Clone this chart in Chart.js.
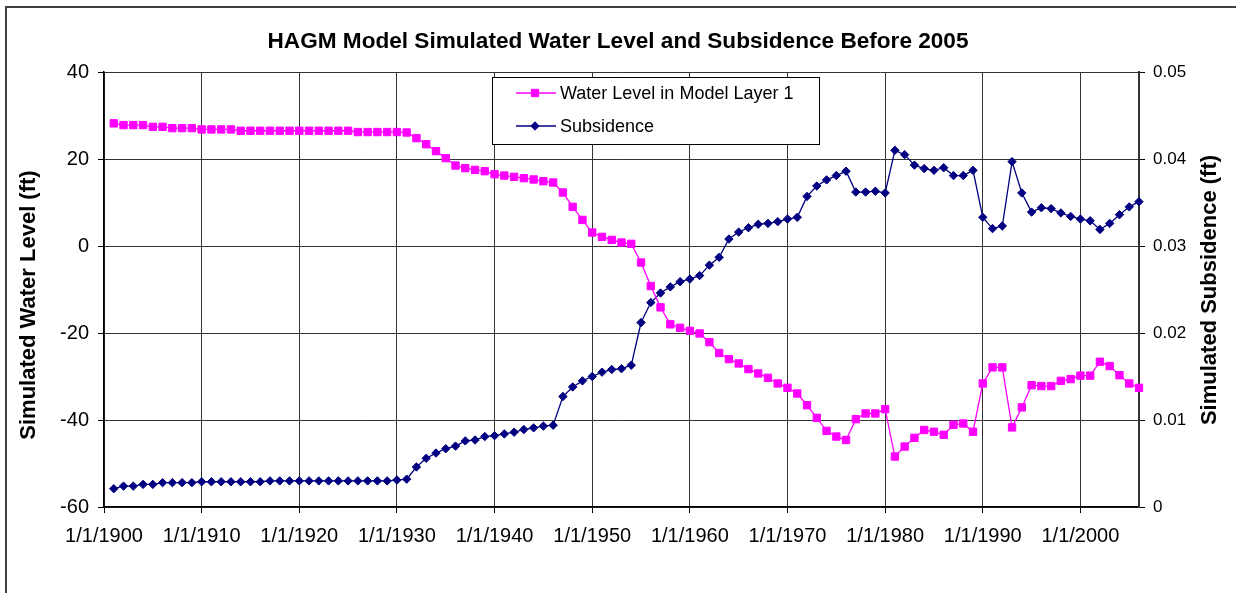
<!DOCTYPE html>
<html>
<head>
<meta charset="utf-8">
<script src="https://cdn.jsdelivr.net/npm/chart.js@4.4.0/dist/chart.umd.min.js"></script>
<style>
html,body{margin:0;padding:0;background:#fff;overflow:hidden}
canvas{display:block}
</style>
</head>
<body>
<canvas id="c" width="1236" height="593"></canvas>
<script>
// ---- data ----
const chartTitle = 'HAGM Model Simulated Water Level and Subsidence Before 2005';
const leftAxisTitle = 'Simulated Water Level (ft)';
const rightAxisTitle = 'Simulated Subsidence (ft)';
const seriesNames = ['Water Level in Model Layer 1', 'Subsidence'];

const years = [
1901,1902,1903,1904,1905,1906,1907,1908,1909,1910,
1911,1912,1913,1914,1915,1916,1917,1918,1919,1920,
1921,1922,1923,1924,1925,1926,1927,1928,1929,1930,
1931,1932,1933,1934,1935,1936,1937,1938,1939,1940,
1941,1942,1943,1944,1945,1946,1947,1948,1949,1950,
1951,1952,1953,1954,1955,1956,1957,1958,1959,1960,
1961,1962,1963,1964,1965,1966,1967,1968,1969,1970,
1971,1972,1973,1974,1975,1976,1977,1978,1979,1980,
1981,1982,1983,1984,1985,1986,1987,1988,1989,1990,
1991,1992,1993,1994,1995,1996,1997,1998,1999,2000,
2001,2002,2003,2004,2005,2006];

const waterLevel = [
28.2,27.8,27.8,27.8,27.4,27.4,27.1,27.1,27.1,26.8,
26.8,26.8,26.8,26.5,26.5,26.5,26.5,26.5,26.5,26.5,
26.5,26.5,26.5,26.5,26.5,26.2,26.2,26.2,26.2,26.2,
26.1,24.8,23.4,21.8,20.2,18.5,17.9,17.5,17.2,16.5,
16.2,15.9,15.6,15.3,14.9,14.6,12.3,9.0,6.0,3.1,
2.1,1.4,0.8,0.5,-3.8,-9.2,-14.1,-18.0,-18.8,-19.5,
-20.1,-22.1,-24.6,-26.0,-27.0,-28.3,-29.3,-30.3,-31.6,-32.6,
-33.9,-36.6,-39.5,-42.5,-43.8,-44.6,-39.8,-38.5,-38.5,-37.5,
-48.4,-46.1,-44.1,-42.3,-42.7,-43.4,-41.1,-40.8,-42.7,-31.6,
-27.9,-27.9,-41.7,-37.1,-32.0,-32.2,-32.2,-31.0,-30.6,-29.8,
-29.8,-26.6,-27.6,-29.7,-31.6,-32.6];

const subsidence = [
0.0021,0.0024,0.0024,0.0026,0.0026,0.0028,0.0028,0.0028,0.0028,0.0029,
0.0029,0.0029,0.0029,0.0029,0.0029,0.0029,0.0030,0.0030,0.0030,0.0030,
0.0030,0.0030,0.0030,0.0030,0.0030,0.0030,0.0030,0.0030,0.0030,0.0031,
0.0032,0.0046,0.0056,0.0062,0.0067,0.0070,0.0076,0.0077,0.0081,0.0082,
0.0084,0.0086,0.0089,0.0091,0.0093,0.0094,0.0127,0.0138,0.0145,0.0150,
0.0155,0.0158,0.0159,0.0163,0.0212,0.0235,0.0246,0.0253,0.0259,0.0262,
0.0266,0.0278,0.0287,0.0308,0.0316,0.0321,0.0325,0.0326,0.0328,0.0331,
0.0333,0.0357,0.0369,0.0376,0.0381,0.0386,0.0362,0.0362,0.0363,0.0361,
0.0410,0.0405,0.0393,0.0389,0.0387,0.0390,0.0381,0.0381,0.0387,0.0333,
0.0320,0.0323,0.0397,0.0361,0.0339,0.0344,0.0343,0.0338,0.0334,0.0331,
0.0329,0.0319,0.0326,0.0336,0.0345,0.0351];

const xTickYears = [1900,1910,1920,1930,1940,1950,1960,1970,1980,1990,2000];
const leftTicks = [-60,-40,-20,0,20,40];
const rightTicks = [0,0.01,0.02,0.03,0.04,0.05];

// ---- chart ----
const FONT = "'Liberation Sans', Arial, Helvetica, sans-serif";

const framePlugin = {
  id: 'frame',
  beforeDraw(chart) {
    const ctx = chart.ctx;
    ctx.save();
    ctx.fillStyle = '#fff';
    ctx.fillRect(0, 0, chart.width, chart.height);
    ctx.strokeStyle = '#404040';
    ctx.lineWidth = 2;
    ctx.strokeRect(6, 7, chart.width + 20, chart.height + 20);
    ctx.restore();
  }
};

const axisTitlePlugin = {
  id: 'axisTitles',
  afterDraw(chart) {
    const ctx = chart.ctx;
    ctx.save();
    ctx.fillStyle = '#000';
    ctx.font = 'bold 22px ' + FONT;
    ctx.textAlign = 'center';
    ctx.textBaseline = 'middle';
    ctx.translate(29, 305);
    ctx.rotate(-Math.PI / 2);
    ctx.fillText(leftAxisTitle, 0, 0);
    ctx.restore();
    ctx.save();
    ctx.fillStyle = '#000';
    ctx.font = 'bold 22px ' + FONT;
    ctx.textAlign = 'center';
    ctx.textBaseline = 'middle';
    ctx.translate(1210, 290);
    ctx.rotate(-Math.PI / 2);
    ctx.fillText(rightAxisTitle, 0, 0);
    ctx.restore();
  }
};

const boxLegendPlugin = {
  id: 'boxLegend',
  afterDraw(chart) {
    const ctx = chart.ctx;
    const bx = 492.5, by = 77.5, bw = 327, bh = 67;
    ctx.save();
    ctx.fillStyle = '#fff';
    ctx.fillRect(bx, by, bw, bh);
    ctx.strokeStyle = '#000';
    ctx.lineWidth = 1;
    ctx.strokeRect(bx, by, bw, bh);
    const rows = [93, 126];
    chart.data.datasets.forEach((ds, i) => {
      const y = rows[i];
      ctx.strokeStyle = ds.borderColor;
      ctx.lineWidth = ds.borderWidth;
      ctx.beginPath();
      ctx.moveTo(516, y);
      ctx.lineTo(556, y);
      ctx.stroke();
      ctx.fillStyle = ds.pointBackgroundColor;
      ctx.strokeStyle = ds.pointBorderColor;
      ctx.lineWidth = 1;
      Chart.helpers.drawPoint(ctx, {pointStyle: ds.pointStyle, radius: ds.pointRadius, rotation: 0, borderWidth: 1}, 535, y);
      ctx.fillStyle = '#000';
      ctx.font = '18px ' + FONT;
      ctx.textAlign = 'left';
      ctx.textBaseline = 'middle';
      ctx.fillText(ds.label, 560, y + 1);
    });
    ctx.restore();
  }
};

new Chart(document.getElementById('c'), {
  type: 'line',
  data: {
    datasets: [
      {
        label: seriesNames[0],
        data: years.map((yr, i) => ({x: yr, y: waterLevel[i]})),
        yAxisID: 'y',
        borderColor: '#FF00FF',
        backgroundColor: '#FF00FF',
        pointBackgroundColor: '#FF00FF',
        pointBorderColor: '#FF00FF',
        borderWidth: 1.3,
        pointStyle: 'rect',
        pointRadius: 5.2,
        pointBorderWidth: 1,
        tension: 0,
        clip: false
      },
      {
        label: seriesNames[1],
        data: years.map((yr, i) => ({x: yr, y: subsidence[i]})),
        yAxisID: 'y2',
        borderColor: '#000080',
        backgroundColor: '#000080',
        pointBackgroundColor: '#000080',
        pointBorderColor: '#000080',
        borderWidth: 1.3,
        pointStyle: 'rectRot',
        pointRadius: 4.2,
        pointBorderWidth: 1,
        tension: 0,
        clip: false
      }
    ]
  },
  options: {
    responsive: false,
    animation: false,
    devicePixelRatio: 1,
    layout: {padding: 0},
    plugins: {
      legend: {display: false},
      tooltip: {enabled: false},
      title: {
        display: true,
        text: chartTitle,
        color: '#000',
        font: {family: FONT, size: 22.6, weight: 'bold', lineHeight: 1.2},
        padding: {top: 28.6, bottom: 16.3}
      }
    },
    scales: {
      x: {
        type: 'linear',
        position: 'bottom',
        min: 1900,
        max: 2006,
        afterBuildTicks: s => { s.ticks = xTickYears.map(v => ({value: v})); },
        afterFit: s => { s.height = 86; },
        ticks: {
          callback: v => '1/1/' + v,
          color: '#000',
          font: {family: FONT, size: 20},
          padding: 11,
          maxRotation: 0,
          autoSkip: false
        },
        grid: {color: '#333', lineWidth: 1, tickLength: 6, tickColor: '#000', drawTicks: true},
        border: {color: '#000', width: 1.5}
      },
      y: {
        position: 'left',
        min: -60,
        max: 40,
        afterBuildTicks: s => { s.ticks = leftTicks.map(v => ({value: v})); },
        afterFit: s => { s.width = 104; },
        ticks: {
          color: '#000',
          font: {family: FONT, size: 20},
          padding: 9
        },
        grid: {color: '#333', lineWidth: 1, tickLength: 6, tickColor: '#000'},
        border: {color: '#000', width: 1.5}
      },
      y2: {
        position: 'right',
        min: 0,
        max: 0.05,
        afterBuildTicks: s => { s.ticks = rightTicks.map(v => ({value: v})); },
        afterFit: s => { s.width = 97; },
        ticks: {
          callback: v => v === 0 ? '0' : v.toFixed(2),
          color: '#000',
          font: {family: FONT, size: 17},
          padding: 8
        },
        grid: {drawOnChartArea: false, tickLength: 6, tickColor: '#000'},
        border: {color: '#333', width: 2}
      }
    }
  },
  plugins: [framePlugin, axisTitlePlugin, boxLegendPlugin]
});
</script>
</body>
</html>
